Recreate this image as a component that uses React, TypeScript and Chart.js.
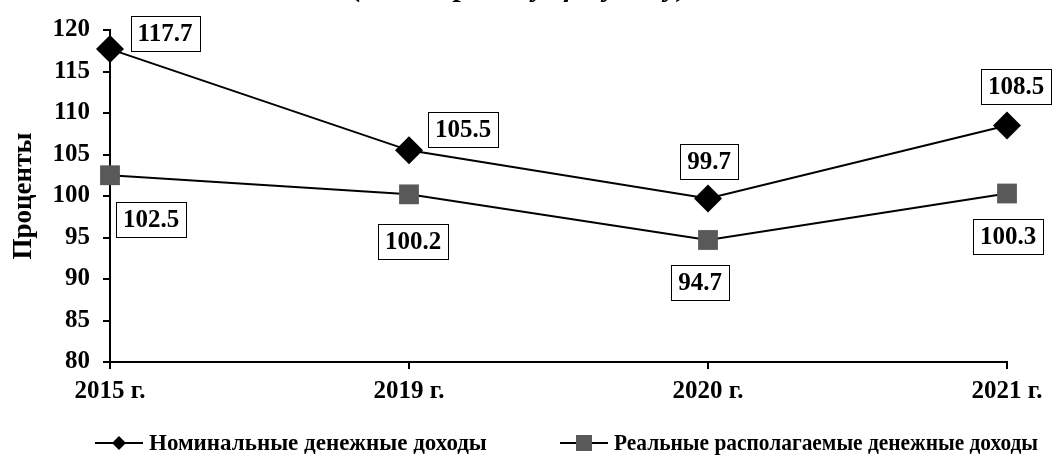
import React, { useEffect, useRef } from "react";
import { Chart, registerables } from "chart.js";

Chart.register(...registerables);

const categories = ["2015 г.", "2019 г.", "2020 г.", "2021 г."];
const nominalIncome = [117.7, 105.5, 99.7, 108.5];
const realIncome = [102.5, 100.2, 94.7, 100.3];
const yTicks = [80, 85, 90, 95, 100, 105, 110, 115, 120];
const seriesNames = ["Номинальные денежные доходы", "Реальные располагаемые денежные доходы"];
const titleText = "(в % к предыдущему году)";
const yTitle = "Проценты";

const FONT = "'Liberation Serif', 'Times New Roman', serif";

// label box offsets relative to each point (layout only)
const labelOffsets = [
  [[55, -16], [54, -21], [1, -37], [9, -39]],
  [[41, 44], [4, 47], [-8, 43], [1, 43]],
];

const labelPlugin = {
  id: "boxLabels",
  afterDatasetsDraw(chart: any) {
    const ctx = chart.ctx;
    ctx.save();
    ctx.font = `bold 25px ${FONT}`;
    ctx.textAlign = "center";
    ctx.textBaseline = "middle";
    chart.data.datasets.forEach((ds: any, i: number) => {
      const meta = chart.getDatasetMeta(i);
      meta.data.forEach((el: any, j: number) => {
        const txt = Number(ds.data[j]).toFixed(1);
        const x = el.x + labelOffsets[i][j][0];
        const y = el.y + labelOffsets[i][j][1];
        const w = Math.round(ctx.measureText(txt).width + 14);
        const h = 35;
        const bx = Math.round(x - w / 2) + 0.5;
        const by = Math.round(y - h / 2) + 0.5;
        ctx.fillStyle = "#fff";
        ctx.fillRect(bx, by, w, h);
        ctx.strokeStyle = "#000";
        ctx.lineWidth = 1;
        ctx.strokeRect(bx, by, w, h);
        ctx.fillStyle = "#000";
        ctx.fillText(txt, x, y + 1);
      });
    });
    ctx.restore();
  },
};

const decorPlugin = {
  id: "decor",
  afterDraw(chart: any) {
    const ctx = chart.ctx;
    ctx.save();
    // title (cut off at the top as in the source)
    ctx.font = `bold italic 30px ${FONT}`;
    ctx.textAlign = "center";
    ctx.textBaseline = "alphabetic";
    ctx.fillStyle = "#000";
    ctx.fillText(titleText, 520, -4);

    // legend
    const starts = [95, 560];
    const textWidths = [340, 424];
    const y = 443;
    ctx.font = `bold 23px ${FONT}`;
    ctx.textAlign = "left";
    ctx.textBaseline = "middle";
    chart.data.datasets.forEach((ds: any, i: number) => {
      const x0 = starts[i];
      ctx.strokeStyle = "#000";
      ctx.lineWidth = 2;
      ctx.beginPath();
      ctx.moveTo(x0, y);
      ctx.lineTo(x0 + 48, y);
      ctx.stroke();
      const cx = x0 + 24;
      ctx.fillStyle = ds.pointBackgroundColor;
      ctx.beginPath();
      if (ds.pointStyle === "rectRot") {
        const r = 7;
        ctx.moveTo(cx, y - r);
        ctx.lineTo(cx + r, y);
        ctx.lineTo(cx, y + r);
        ctx.lineTo(cx - r, y);
        ctx.closePath();
      } else {
        ctx.rect(cx - 8, y - 8, 16, 16);
      }
      ctx.fill();
      ctx.fillStyle = "#000";
      ctx.fillText(ds.label, x0 + 54, y + 1, textWidths[i]);
    });
    ctx.restore();
  },
};

export default function App() {
  const ref = useRef<HTMLCanvasElement | null>(null);
  useEffect(() => {
    if (!ref.current) return;
    const chart = new Chart(ref.current, {
      type: "line",
      data: {
        labels: categories,
        datasets: [
          {
            label: seriesNames[0],
            data: nominalIncome,
            borderColor: "#000",
            borderWidth: 2,
            pointStyle: "rectRot",
            pointRadius: 14,
            pointBackgroundColor: "#000",
            pointBorderColor: "#000",
            pointBorderWidth: 0,
            tension: 0,
          },
          {
            label: seriesNames[1],
            data: realIncome,
            borderColor: "#000",
            borderWidth: 2,
            pointStyle: "rect",
            pointRadius: 14,
            pointBackgroundColor: "#595959",
            pointBorderColor: "#595959",
            pointBorderWidth: 0,
            tension: 0,
          },
        ],
      } as any,
      options: {
        animation: false,
        responsive: false,
        layout: { padding: { top: 30, right: 49, left: 0, bottom: 0 } },
        plugins: { legend: { display: false }, tooltip: { enabled: false }, title: { display: false } },
        scales: {
          x: {
            offset: false,
            grid: { drawOnChartArea: false, drawTicks: true, tickLength: 7, color: "#000", lineWidth: 2 },
            border: { color: "#000", width: 2 },
            ticks: { color: "#000", font: { family: FONT, size: 25, weight: "bold" }, padding: 8, maxRotation: 0 },
            afterFit: (s: any) => { s.height = 98; },
          },
          y: {
            min: 80,
            max: 120,
            afterBuildTicks: (s: any) => { s.ticks = yTicks.map((v) => ({ value: v })); },
            grid: { drawOnChartArea: false, drawTicks: true, tickLength: 7, color: "#000", lineWidth: 2 },
            border: { color: "#000", width: 2 },
            ticks: { color: "#000", font: { family: FONT, size: 25, weight: "bold" }, padding: 13 },
            title: { display: true, text: yTitle, color: "#000", font: { family: FONT, size: 27, weight: "bold" }, padding: { top: 8, bottom: 0 } },
            afterFit: (s: any) => { s.width = 110; },
          },
        },
      } as any,
      plugins: [labelPlugin, decorPlugin],
    });
    return () => chart.destroy();
  }, []);
  return (
    <div style={{ position: "absolute", left: 0, top: 0, width: 1056, height: 460, background: "#fff" }}>
      <canvas ref={ref} width={1056} height={460} style={{ width: 1056, height: 460, display: "block" }} />
    </div>
  );
}
